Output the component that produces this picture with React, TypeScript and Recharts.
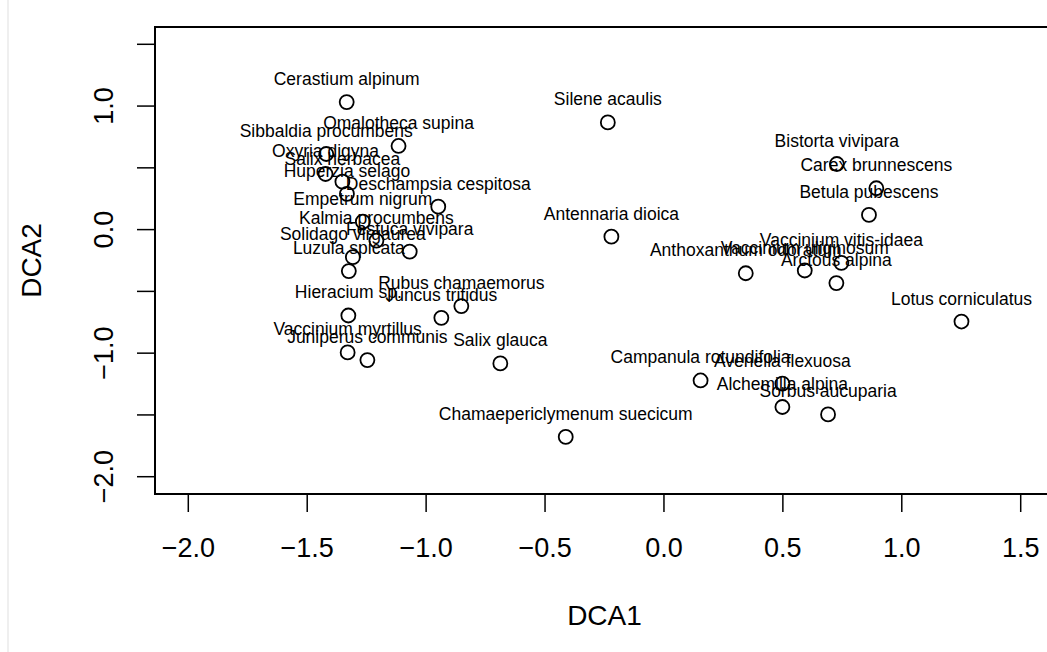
import { ScatterChart, Scatter, XAxis, YAxis, ReferenceArea, Label } from "recharts";

// DCA species scores
const species = [
  "Cerastium alpinum",
  "Omalotheca supina",
  "Silene acaulis",
  "Sibbaldia procumbens",
  "Oxyria digyna",
  "Salix herbacea",
  "Huperzia selago",
  "Deschampsia cespitosa",
  "Empetrum nigrum",
  "Kalmia procumbens",
  "Festuca vivipara",
  "Solidago virgaurea",
  "Luzula spicata",
  "Antennaria dioica",
  "Hieracium sp.",
  "Rubus chamaemorus",
  "Juncus trifidus",
  "Vaccinium myrtillus",
  "Juniperus communis",
  "Salix glauca",
  "Chamaepericlymenum suecicum",
  "Campanula rotundifolia",
  "Avenella flexuosa",
  "Alchemilla alpina",
  "Sorbus aucuparia",
  "Bistorta vivipara",
  "Carex brunnescens",
  "Betula pubescens",
  "Anthoxanthum odoratum",
  "Vaccinium uliginosum",
  "Vaccinium vitis-idaea",
  "Arctous alpina",
  "Lotus corniculatus",
];

const dca1 = [
  -1.334, -1.116, -0.236, -1.42, -1.423, -1.352, -1.333, -0.949, -1.266, -1.209,
  -1.069, -1.308, -1.325, -0.221, -1.327, -0.852, -0.936, -1.33, -1.247, -0.688,
  -0.413, 0.154, 0.498, 0.498, 0.69, 0.727, 0.893, 0.862, 0.344, 0.592, 0.746,
  0.725, 1.251,
];

const dca2 = [
  1.032, 0.677, 0.868, 0.612, 0.45, 0.388, 0.289, 0.186, 0.065, -0.089, -0.178,
  -0.223, -0.336, -0.057, -0.695, -0.619, -0.714, -0.994, -1.056, -1.083,
  -1.678, -1.221, -1.247, -1.436, -1.496, 0.531, 0.335, 0.119, -0.353, -0.331,
  -0.269, -0.433, -0.744,
];

const xTicks = [-2, -1.5, -1, -0.5, 0, 0.5, 1, 1.5];
const yTicks = [-2, -1.5, -1, -0.5, 0, 0.5, 1, 1.5];
const yLabelled = [-2, -1, 0, 1];
const limits: [number, number] = [-2.14, 1.64];

const FONT = "'Liberation Sans', Arial, Helvetica, sans-serif";

const data = species.map((name, i) => ({ name, x: dca1[i], y: dca2[i] }));

function fmt(v: number) {
  return v.toFixed(1).replace("-", "\u2212");
}

function SpeciesPoint(props: any) {
  const { cx, cy, payload } = props;
  return (
    <g>
      <circle cx={cx} cy={cy} r={7} fill="none" stroke="#000" strokeWidth={1.8} />
      <text
        x={cx}
        y={cy - 17}
        textAnchor="middle"
        fontSize={17.5}
        fontFamily={FONT}
        fill="#000"
      >
        {payload.name}
      </text>
    </g>
  );
}

function XTick(props: any) {
  const { x, y, payload } = props;
  return (
    <text x={x} y={y} dy={43} textAnchor="middle" fontSize={27} fontFamily={FONT} fill="#000">
      {fmt(payload.value)}
    </text>
  );
}

function YTick(props: any) {
  const { x, y, payload } = props;
  if (!yLabelled.includes(payload.value)) return <g />;
  return (
    <text
      transform={`translate(${x - 22}, ${y}) rotate(-90)`}
      textAnchor="middle"
      fontSize={27}
      fontFamily={FONT}
      fill="#000"
    >
      {fmt(payload.value)}
    </text>
  );
}

export default function App() {
  return (
    <div
      style={{
        position: "absolute",
        left: 0,
        top: 0,
        width: 1047,
        height: 652,
        overflow: "hidden",
        background: "#fff",
      }}
    >
      <div
        style={{
          position: "absolute",
          left: 7,
          top: 0,
          width: 2,
          height: 652,
          background: "#efefef",
        }}
      />
      <ScatterChart
        width={1062}
        height={652}
        margin={{ top: 27, right: 8, bottom: 0, left: 0 }}
      >
        <XAxis
          type="number"
          dataKey="x"
          domain={limits}
          ticks={xTicks}
          interval={0}
          allowDataOverflow
          height={158}
          axisLine={false}
          tickSize={18}
          tickLine={{ stroke: "#000", strokeWidth: 1.5 }}
          tick={(p: any) => <XTick {...p} />}
        >
          <Label
            content={(p: any) => {
              const vb = p.viewBox || { x: 155, y: 494, width: 899 };
              return (
                <text
                  x={vb.x + vb.width / 2}
                  y={vb.y + 131}
                  textAnchor="middle"
                  fontSize={28}
                  fontFamily={FONT}
                  fill="#000"
                >
                  DCA1
                </text>
              );
            }}
          />
        </XAxis>
        <YAxis
          type="number"
          dataKey="y"
          domain={limits}
          ticks={yTicks}
          interval={0}
          allowDataOverflow
          width={155}
          axisLine={false}
          tickSize={18}
          tickLine={{ stroke: "#000", strokeWidth: 1.5 }}
          tick={(p: any) => <YTick {...p} />}
        >
          <Label
            content={(p: any) => {
              const vb = p.viewBox || { x: 0, y: 27, width: 155, height: 467 };
              const cx = vb.x + vb.width - 114;
              const cy = vb.y + vb.height / 2;
              return (
                <text
                  transform={`translate(${cx}, ${cy}) rotate(-90)`}
                  textAnchor="middle"
                  fontSize={28}
                  fontFamily={FONT}
                  fill="#000"
                >
                  DCA2
                </text>
              );
            }}
          />
        </YAxis>
        <ReferenceArea
          x1={limits[0]}
          x2={limits[1]}
          y1={limits[0]}
          y2={limits[1]}
          fill="none"
          fillOpacity={0}
          stroke="#000"
          strokeWidth={2}
        />
        <Scatter
          data={data}
          isAnimationActive={false}
          shape={(p: any) => <SpeciesPoint {...p} />}
        />
      </ScatterChart>
    </div>
  );
}
